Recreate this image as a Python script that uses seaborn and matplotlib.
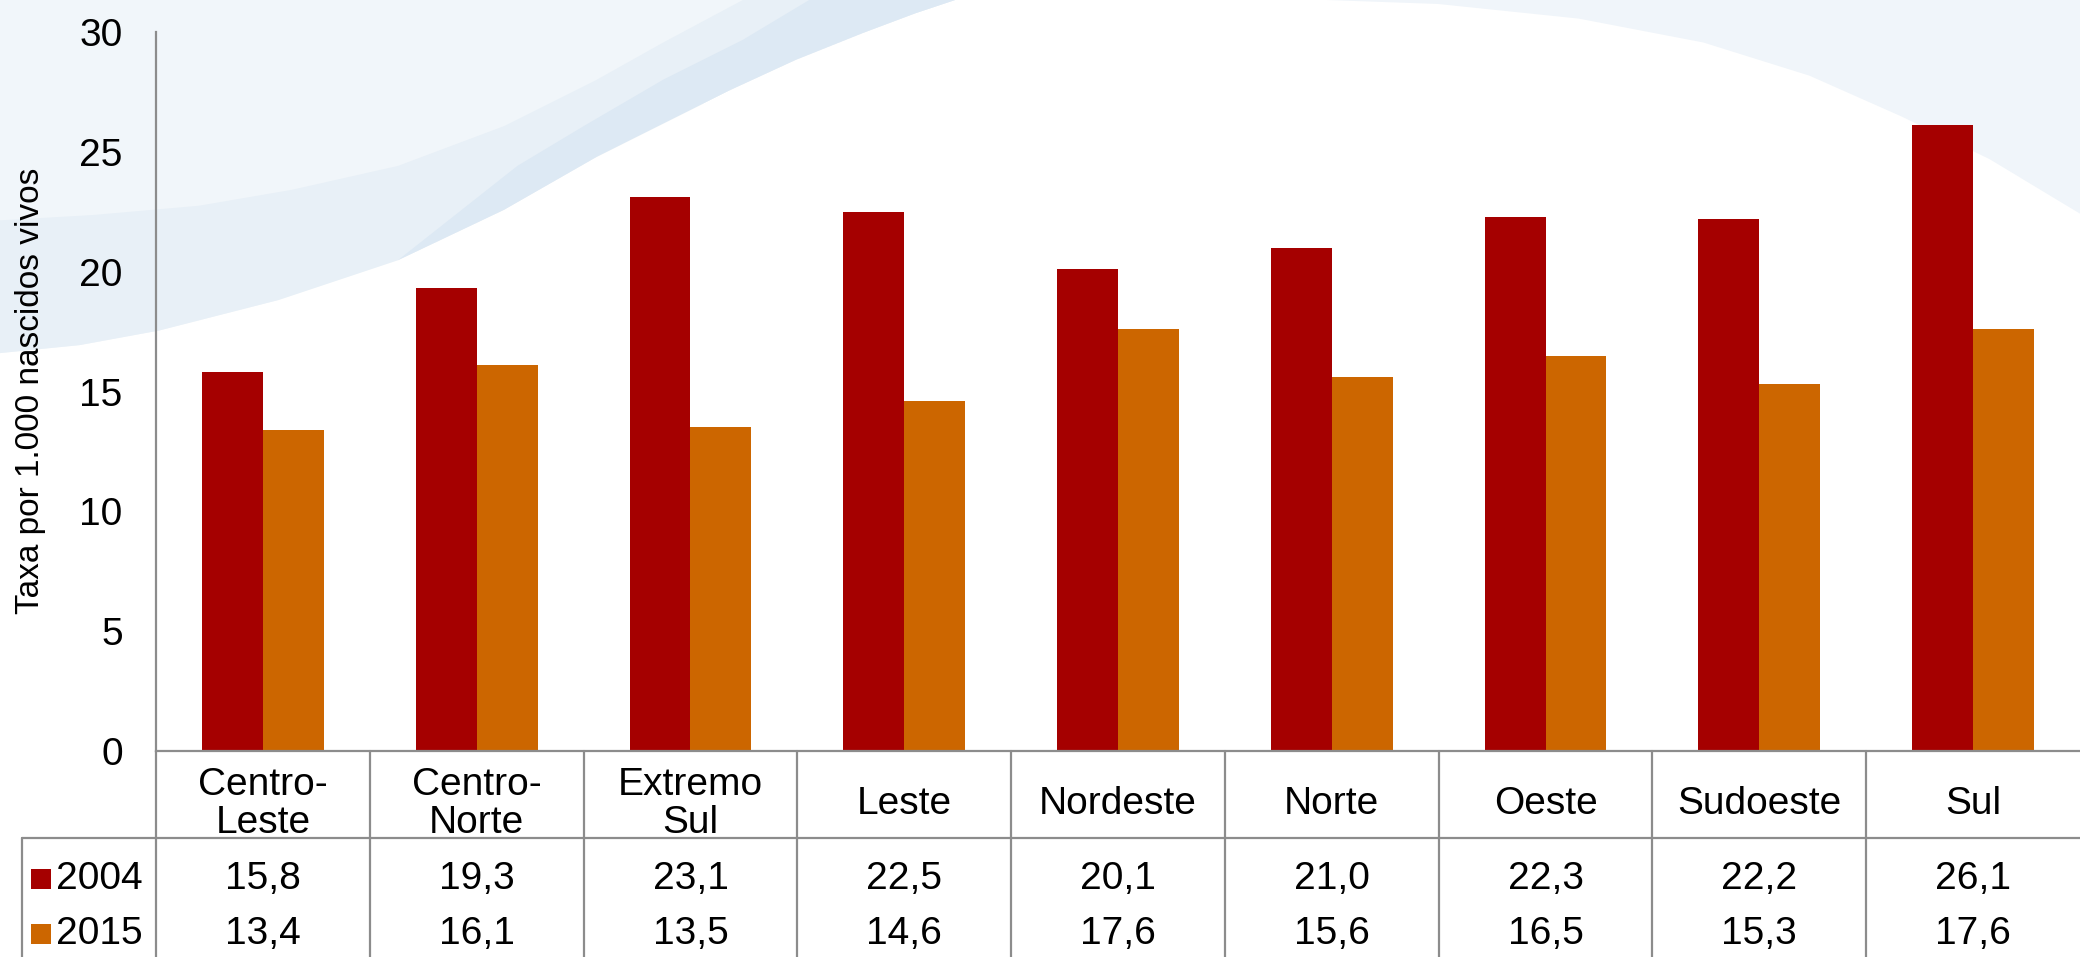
import matplotlib
matplotlib.use("Agg")
import matplotlib.pyplot as plt
import matplotlib.transforms as mtransforms
from matplotlib import font_manager
from matplotlib.patches import Rectangle, Polygon
import seaborn as sns
import pandas as pd

# Data
regioes = ["Centro-\nLeste", "Centro-\nNorte", "Extremo\nSul", "Leste", "Nordeste",
           "Norte", "Oeste", "Sudoeste", "Sul"]
anos = ["2004", "2015"]
taxa_2004 = [15.8, 19.3, 23.1, 22.5, 20.1, 21.0, 22.3, 22.2, 26.1]
taxa_2015 = [13.4, 16.1, 13.5, 14.6, 17.6, 15.6, 16.5, 15.3, 17.6]
cores = ["#A50000", "#CC6600"]
yticks = [0, 5, 10, 15, 20, 25, 30]

df = pd.DataFrame({
    "regiao": regioes * 2,
    "ano": [anos[0]] * len(regioes) + [anos[1]] * len(regioes),
    "taxa": taxa_2004 + taxa_2015,
})

sns.set_theme(style="white")
available = {f.name for f in font_manager.fontManager.ttflist}
fonte = "Liberation Sans Narrow" if "Liberation Sans Narrow" in available else "Liberation Sans"
plt.rcParams["font.family"] = [fonte, "DejaVu Sans"]
plt.rcParams["text.color"] = "black"
plt.rcParams["ytick.color"] = "black"

W, H = 2080, 957
fig = plt.figure(figsize=(W / 100, H / 100), dpi=100)
fig.patch.set_facecolor("white")

# faint blue swoosh in the background (slide decoration)
bg = fig.add_axes([0, 0, 1, 1], zorder=-10)
bg.set_xlim(0, 1568)
bg.set_ylim(721, 0)
bg.axis("off")
lower = [(0, 266), (60, 260), (120, 249), (210, 226), (300, 196), (380, 158), (450, 118),
         (500, 93), (550, 68), (600, 45), (650, 25), (690, 10), (720, 0)]
bg.add_patch(Polygon(lower + [(0, 0)], closed=True, facecolor="#f1f6fa", edgecolor="none"))
bg.add_patch(Polygon(lower + [(560, 0), (500, 32), (450, 60), (380, 95), (300, 125),
                              (220, 143), (150, 155), (70, 162), (0, 166)],
                     closed=True, facecolor="#e8f0f7", edgecolor="none"))
bg.add_patch(Polygon([(300, 196), (380, 158), (450, 118), (500, 93), (550, 68), (600, 45),
                      (650, 25), (690, 10), (720, 0), (610, 0), (560, 30), (500, 60),
                      (440, 95), (390, 125)],
                     closed=True, facecolor="#dde9f4", edgecolor="none"))
bg.add_patch(Polygon([(1000, 0), (1084, 3), (1190, 14), (1284, 32), (1364, 57), (1434, 88),
                      (1500, 120), (1568, 161), (1568, 0)],
                     closed=True, facecolor="#f0f5fa", edgecolor="none"))

ax = fig.add_axes([156 / W, 1 - 751 / H, 1 - 156 / W, (751 - 32) / H])
ax.patch.set_alpha(0)

sns.barplot(data=df, x="regiao", y="taxa", hue="ano", palette=cores, width=0.57,
            saturation=1, gap=0, legend=False, linewidth=0, ax=ax)

ax.set_xlim(-0.5, len(regioes) - 0.5)
ax.set_ylim(0, 30)
ax.set_yticks(yticks)
ax.set_yticklabels([str(t) for t in yticks], fontsize=28, color="black")
ax.tick_params(axis="y", length=0, pad=24)
ax.tick_params(axis="x", length=0, labelbottom=False)
ax.set_xlabel("")
ax.set_ylabel("")
for s in ["top", "right"]:
    ax.spines[s].set_visible(False)
for s in ["left", "bottom"]:
    ax.spines[s].set_color("#8c8c8c")
    ax.spines[s].set_linewidth(1.6)

fig.text(31 / W, 1 - 391 / H, "Taxa por 1.000 nascidos vivos", rotation=90,
         fontsize=24, ha="center", va="center", color="black")

# data table under the chart
line_kw = dict(color="#8c8c8c", linewidth=1.6, clip_on=False)
tr = mtransforms.blended_transform_factory(ax.transData, fig.transFigure)
ax.plot([-0.5, -0.5], [0, 1 - 751 / H], transform=tr, **line_kw)
for i in range(len(regioes) - 1):
    ax.plot([i + 0.5, i + 0.5], [0, 1 - 751 / H], transform=tr, **line_kw)
fig.add_artist(plt.Line2D([22 / W, 1], [1 - 838 / H, 1 - 838 / H], transform=fig.transFigure,
                          color="#8c8c8c", linewidth=1.6))
fig.add_artist(plt.Line2D([22 / W, 22 / W], [0, 1 - 838 / H], transform=fig.transFigure,
                          color="#8c8c8c", linewidth=1.6))

fmt = lambda v: f"{v:.1f}".replace(".", ",")
for i, reg in enumerate(regioes):
    ax.text(i, 1 - 804 / H, reg, transform=tr, ha="center", va="center",
            fontsize=28, linespacing=1.07, color="black")
    ax.text(i, 1 - 879 / H, fmt(taxa_2004[i]), transform=tr, ha="center", va="center",
            fontsize=28, color="black")
    ax.text(i, 1 - 934 / H, fmt(taxa_2015[i]), transform=tr, ha="center", va="center",
            fontsize=28, color="black")

for ano, cor, yc in zip(anos, cores, [879, 934]):
    fig.add_artist(Rectangle((31 / W, 1 - (yc + 10) / H), 20 / W, 20 / H,
                             transform=fig.transFigure, facecolor=cor, edgecolor="none"))
    fig.text(56 / W, 1 - yc / H, ano, ha="left", va="center", fontsize=28, color="black")

fig.savefig("out.png", dpi=100)
